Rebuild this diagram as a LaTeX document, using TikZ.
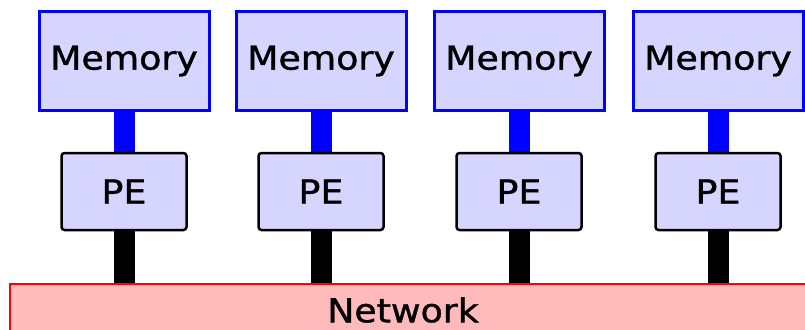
\documentclass[tikz,border=0pt]{standalone}
\usepackage{fontspec}
\newfontfamily\lblfont[FakeStretch=1.1,FakeBold=1.2]{DejaVu Sans}
\usetikzlibrary{backgrounds}
\definecolor{boxfill}{RGB}{213,213,255}
\definecolor{netfill}{RGB}{255,187,187}
\tikzset{
  lbl/.style={font=\lblfont\fontsize{33}{36}\selectfont},
  membox/.style={lbl, draw=blue, line width=3pt, fill=boxfill, minimum width=170pt,
    minimum height=98pt, inner sep=0pt},
  pebox/.style={lbl, draw=black, line width=2.5pt, fill=boxfill, rounded corners=3pt,
    minimum width=125pt, minimum height=77pt, inner sep=0pt},
  netbox/.style={draw=red, line width=2.5pt, fill=netfill, inner sep=0pt},
  memlink/.style={draw=blue, line width=21pt},
  netlink/.style={draw=black, line width=21pt},
}
\begin{document}
\begin{tikzpicture}[x=1pt,y=-1pt]
\useasboundingbox (0,0) rectangle (805,329);
\clip (0,0) rectangle (805,329);
% shared interconnect
\node[netbox, minimum width=805pt, minimum height=62pt] (net) at (412.5,315) {};
\node[lbl, inner sep=0pt] (netlabel) at (403,310) {Network};
% processing elements with their local memories
\foreach \i/\cx in {1/124, 2/321, 3/519, 4/718}{
  \node[membox] (mem\i) at (\cx,61) {Memory};
  \node[pebox] (pe\i) at (\cx,191.5) {PE};
  \begin{pgfonlayer}{background}
    \draw[memlink] (mem\i.south) -- (pe\i.north);
    \draw[netlink] (pe\i.south) -- (pe\i.south |- net.north);
  \end{pgfonlayer}
}
\end{tikzpicture}
\end{document}
